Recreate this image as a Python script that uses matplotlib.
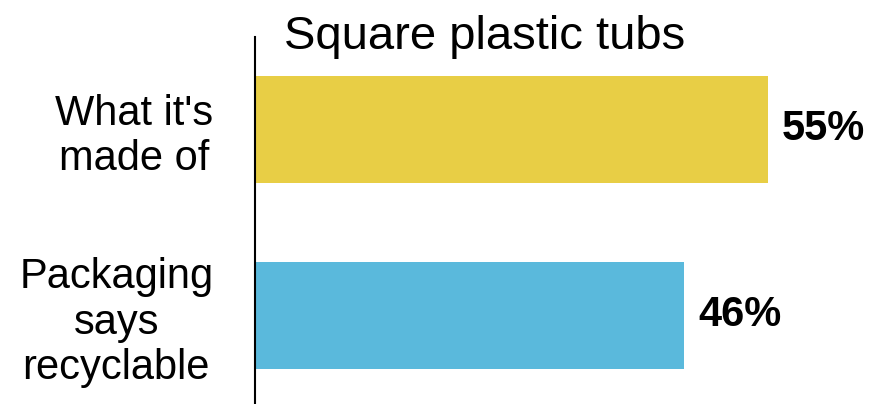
import matplotlib.pyplot as plt

plt.rcParams["font.family"] = ["Liberation Sans", "DejaVu Sans"]

categories = ["What it's\nmade of", "Packaging\nsays\nrecyclable"]
values = [55, 46]
colors = ["#E8CE45", "#5AB9DC"]
title = "Square plastic tubs"

W, H = 874, 404
fig = plt.figure(figsize=(W / 100, H / 100), dpi=100)
# axes box in pixel terms: left edge at the vertical line, top where the line starts
ax = fig.add_axes([255 / W, 0, 1 - 255 / W, (H - 37) / H])

pos = list(range(len(categories)))
ax.barh(pos, values, height=0.575, color=colors)
ax.set_xlim(0, 66.35)
ax.set_ylim(1.476, -0.497)

for y, v in zip(pos, values):
    ax.annotate(f"{v}%", (v, y), xytext=(10, 0), textcoords="offset points",
                ha="left", va="center", fontsize=30, fontweight="bold")

ax.set_yticks(pos)
ax.set_yticklabels(categories, fontsize=30, linespacing=1.17)
for lab in ax.get_yticklabels():
    lab.set_multialignment("center")
ax.tick_params(axis="y", length=0, pad=30)
ax.set_xticks([])

for side in ["top", "right", "bottom"]:
    ax.spines[side].set_visible(False)
ax.spines["left"].set_linewidth(1.5)
ax.spines["left"].set_color("black")

fig.text(485 / W, 1 - 37 / H, title, ha="center", va="center", fontsize=34)

fig.savefig("out.png", dpi=100)
